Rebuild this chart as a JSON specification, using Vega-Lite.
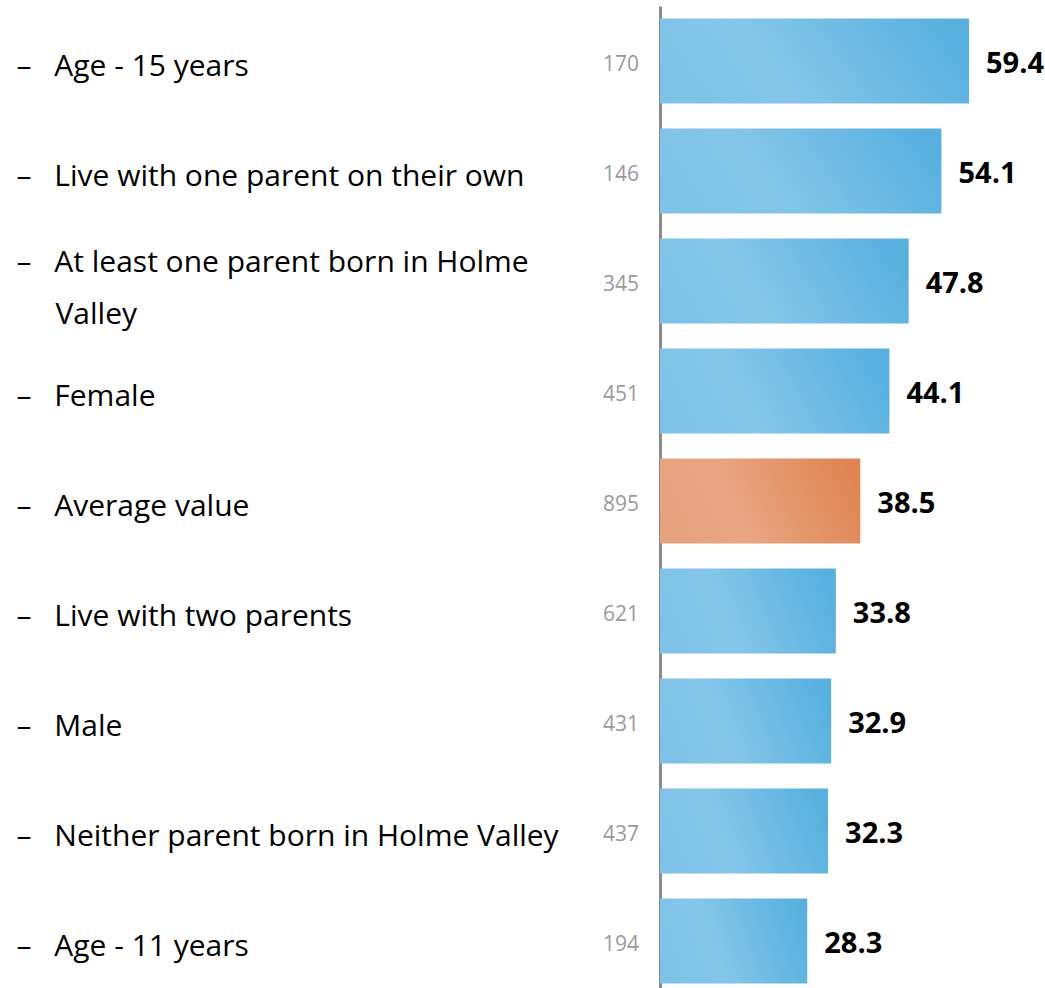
{
  "$schema": "https://vega.github.io/schema/vega-lite/v6.json",
  "width": 385,
  "height": 990,
  "autosize": "none",
  "padding": {"left": 660, "top": 6, "right": 0, "bottom": 0},
  "background": "white",
  "config": {"view": {"stroke": null}, "font": "Open Sans"},
  "data": {
    "values": [
      {"category": "Age - 15 years", "value": 59.4, "n": 170, "group": "sub"},
      {"category": "Live with one parent on their own", "value": 54.1, "n": 146, "group": "sub"},
      {"category": "At least one parent born in Holme Valley", "value": 47.8, "n": 345, "group": "sub"},
      {"category": "Female", "value": 44.1, "n": 451, "group": "sub"},
      {"category": "Average value", "value": 38.5, "n": 895, "group": "avg"},
      {"category": "Live with two parents", "value": 33.8, "n": 621, "group": "sub"},
      {"category": "Male", "value": 32.9, "n": 431, "group": "sub"},
      {"category": "Neither parent born in Holme Valley", "value": 32.3, "n": 437, "group": "sub"},
      {"category": "Age - 11 years", "value": 28.3, "n": 194, "group": "sub"}
    ]
  },
  "encoding": {
    "y": {
      "field": "category",
      "type": "nominal",
      "sort": ["Age - 15 years", "Live with one parent on their own", "At least one parent born in Holme Valley", "Female", "Average value", "Live with two parents", "Male", "Neither parent born in Holme Valley", "Age - 11 years"],
      "scale": {"paddingInner": 0.227, "paddingOuter": 0.1135},
      "axis": {
        "title": null,
        "ticks": false,
        "tickSize": 0,
        "domain": true,
        "domainColor": "#8a8a8a",
        "domainWidth": 3,
        "labelAlign": "left",
        "labelPadding": 644,
        "labelLimit": 640,
        "labelFont": "Open Sans",
        "labelFontSize": 30,
        "labelColor": "#000000",
        "labelLineHeight": 52,
        "labelOffset": {"expr": "datum.value == 'At least one parent born in Holme Valley' ? -18 : 6"},
        "labelExpr": "datum.label == 'At least one parent born in Holme Valley' ? ['\u2013\u2002\u00a0At least one parent born in Holme', '\u2060\u00a0\u00a0\u00a0\u00a0\u00a0Valley'] : '\u2013\u2002\u00a0' + datum.label"
      }
    }
  },
  "layer": [
    {
      "transform": [{"filter": "datum.group == 'sub'"}],
      "mark": {
        "type": "bar",
        "fill": {
          "gradient": "linear",
          "x1": 0, "y1": 0.6, "x2": 1, "y2": 0.4,
          "stops": [
            {"offset": 0, "color": "#7ec2e7"},
            {"offset": 0.35, "color": "#85c6e8"},
            {"offset": 1, "color": "#58b0df"}
          ]
        }
      },
      "encoding": {
        "x": {"field": "value", "type": "quantitative", "scale": {"domain": [0, 74], "nice": false}, "axis": null}
      }
    },
    {
      "transform": [{"filter": "datum.group == 'avg'"}],
      "mark": {
        "type": "bar",
        "fill": {
          "gradient": "linear",
          "x1": 0, "y1": 0.6, "x2": 1, "y2": 0.4,
          "stops": [
            {"offset": 0, "color": "#e6a27f"},
            {"offset": 0.35, "color": "#e8a684"},
            {"offset": 1, "color": "#df8553"}
          ]
        }
      },
      "encoding": {
        "x": {"field": "value", "type": "quantitative"}
      }
    },
    {
      "mark": {"type": "text", "align": "right", "baseline": "middle", "dx": -21, "dy": 4, "fontSize": 21, "font": "Open Sans", "color": "#9a9a9a"},
      "encoding": {
        "x": {"datum": 0, "type": "quantitative"},
        "text": {"field": "n", "type": "quantitative"}
      }
    },
    {
      "mark": {"type": "text", "align": "left", "baseline": "middle", "dx": 17, "dy": 3, "fontSize": 29, "fontWeight": "bold", "font": "Open Sans", "color": "#000000"},
      "encoding": {
        "x": {"field": "value", "type": "quantitative"},
        "text": {"field": "value", "type": "quantitative", "format": ".1f"}
      }
    }
  ]
}
